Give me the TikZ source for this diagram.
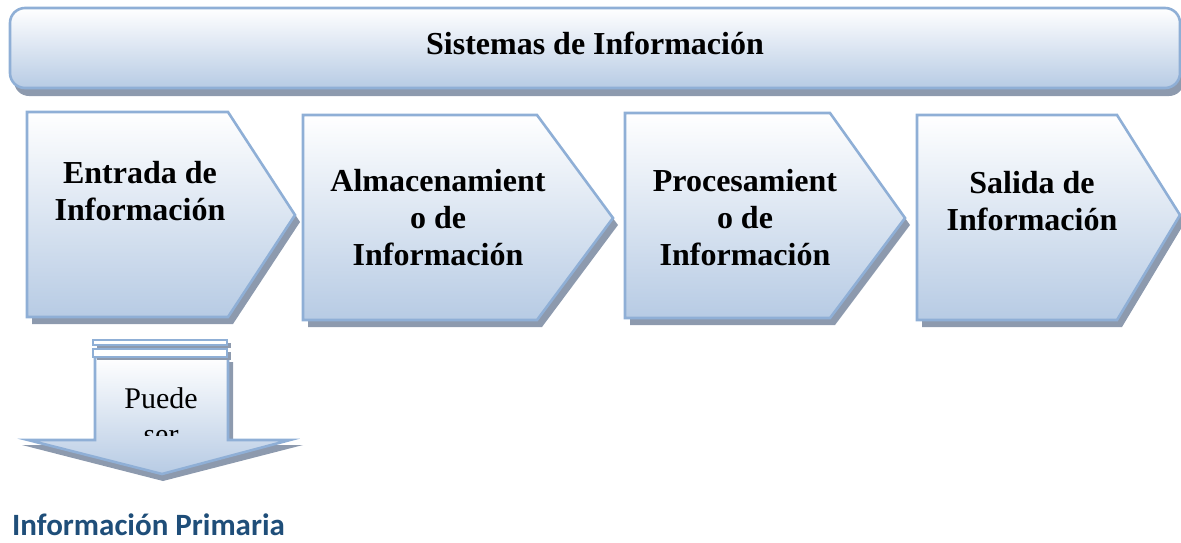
\documentclass[tikz,border=0pt]{standalone}
\usepackage{fontspec}
\setmainfont{Liberation Serif}
\newfontfamily\carlitofont{Carlito}
\definecolor{bord}{HTML}{8FAFD6}
\definecolor{gbot}{HTML}{B7CBE4}
\definecolor{shad}{HTML}{8D9AAE}
\definecolor{ttl}{HTML}{1F4E79}
\begin{document}
\begin{tikzpicture}[x=1pt,y=-1pt,
  boxshape/.style={draw=bord,line width=2.6pt,top color=white,bottom color=gbot,line join=miter},
  shadowshape/.style={fill=shad,draw=none},
  stripshape/.style={draw=bord,line width=1.8pt,fill=white},
  boxtext/.style={font=\fontsize{32}{37}\selectfont\bfseries,align=center,inner sep=0pt},
  plaintext/.style={font=\fontsize{30}{35}\selectfont,inner sep=0pt,anchor=base}]
\useasboundingbox (0,0) rectangle (1181,542);
% title bar
\fill[shad,rounded corners=15pt] (14,15) rectangle (1184,96);
\path[boxshape,rounded corners=15pt] (10,8) rectangle (1180,88);
\node[font=\fontsize{32}{37}\selectfont\bfseries,inner sep=0pt,anchor=base] (title) at (595,54) {Sistemas de Informaci\'on};
% chevron shadows
\fill[shadowshape] (32,119) -- (233,119) -- (300,222) -- (233,324) -- (32,324) -- cycle;
\fill[shadowshape] (308,122) -- (542,122) -- (618,225) -- (542,327) -- (308,327) -- cycle;
\fill[shadowshape] (630,120) -- (835,120) -- (910,225) -- (835,325) -- (630,325) -- cycle;
\fill[shadowshape] (922,122) -- (1122,122) -- (1185,222) -- (1122,327) -- (922,327) -- cycle;
% chevrons
\path[boxshape] (27,112) -- (228,112) -- (295,215) -- (228,317) -- (27,317) -- cycle;
\path[boxshape] (303,115) -- (537,115) -- (613,218) -- (537,320) -- (303,320) -- cycle;
\path[boxshape] (625,113) -- (830,113) -- (905,218) -- (830,318) -- (625,318) -- cycle;
\path[boxshape] (917,115) -- (1117,115) -- (1180,215) -- (1117,320) -- (917,320) -- cycle;
\node[boxtext] (entrada) at (140,191) {Entrada de\\Informaci\'on};
\node[boxtext] (almac) at (438,218) {Almacenamient\\o de\\Informaci\'on};
\node[boxtext] (proces) at (745,218) {Procesamient\\o de\\Informaci\'on};
\node[boxtext] (salida) at (1032,201) {Salida de\\Informaci\'on};
% down arrow
\fill[shadowshape] (100,362) -- (100,445) -- (22,445) -- (163,481) -- (303,445) -- (233,445) -- (233,362) -- cycle;
\path[boxshape] (95,357) -- (95,440) -- (28,440) -- (162,474) -- (290,440) -- (228,440) -- (228,357) -- cycle;
\fill[shadowshape] (97,343) rectangle (231,348);
\fill[shadowshape] (97,352) rectangle (231,360);
\path[stripshape] (93,340) rectangle (227,345);
\path[stripshape] (93,349) rectangle (227,357);
\node[plaintext] (puede) at (161,408) {Puede};
\begin{scope}
  \clip (96,358) rectangle (227,435);
  \node[plaintext] (ser) at (161,444) {ser};
\end{scope}
% caption
\node[font=\carlitofont\fontsize{31}{36}\selectfont\bfseries,text=ttl,inner sep=0pt,anchor=base west] (primaria) at (12,535) {Informaci\'on Primaria};
\end{tikzpicture}
\end{document}
